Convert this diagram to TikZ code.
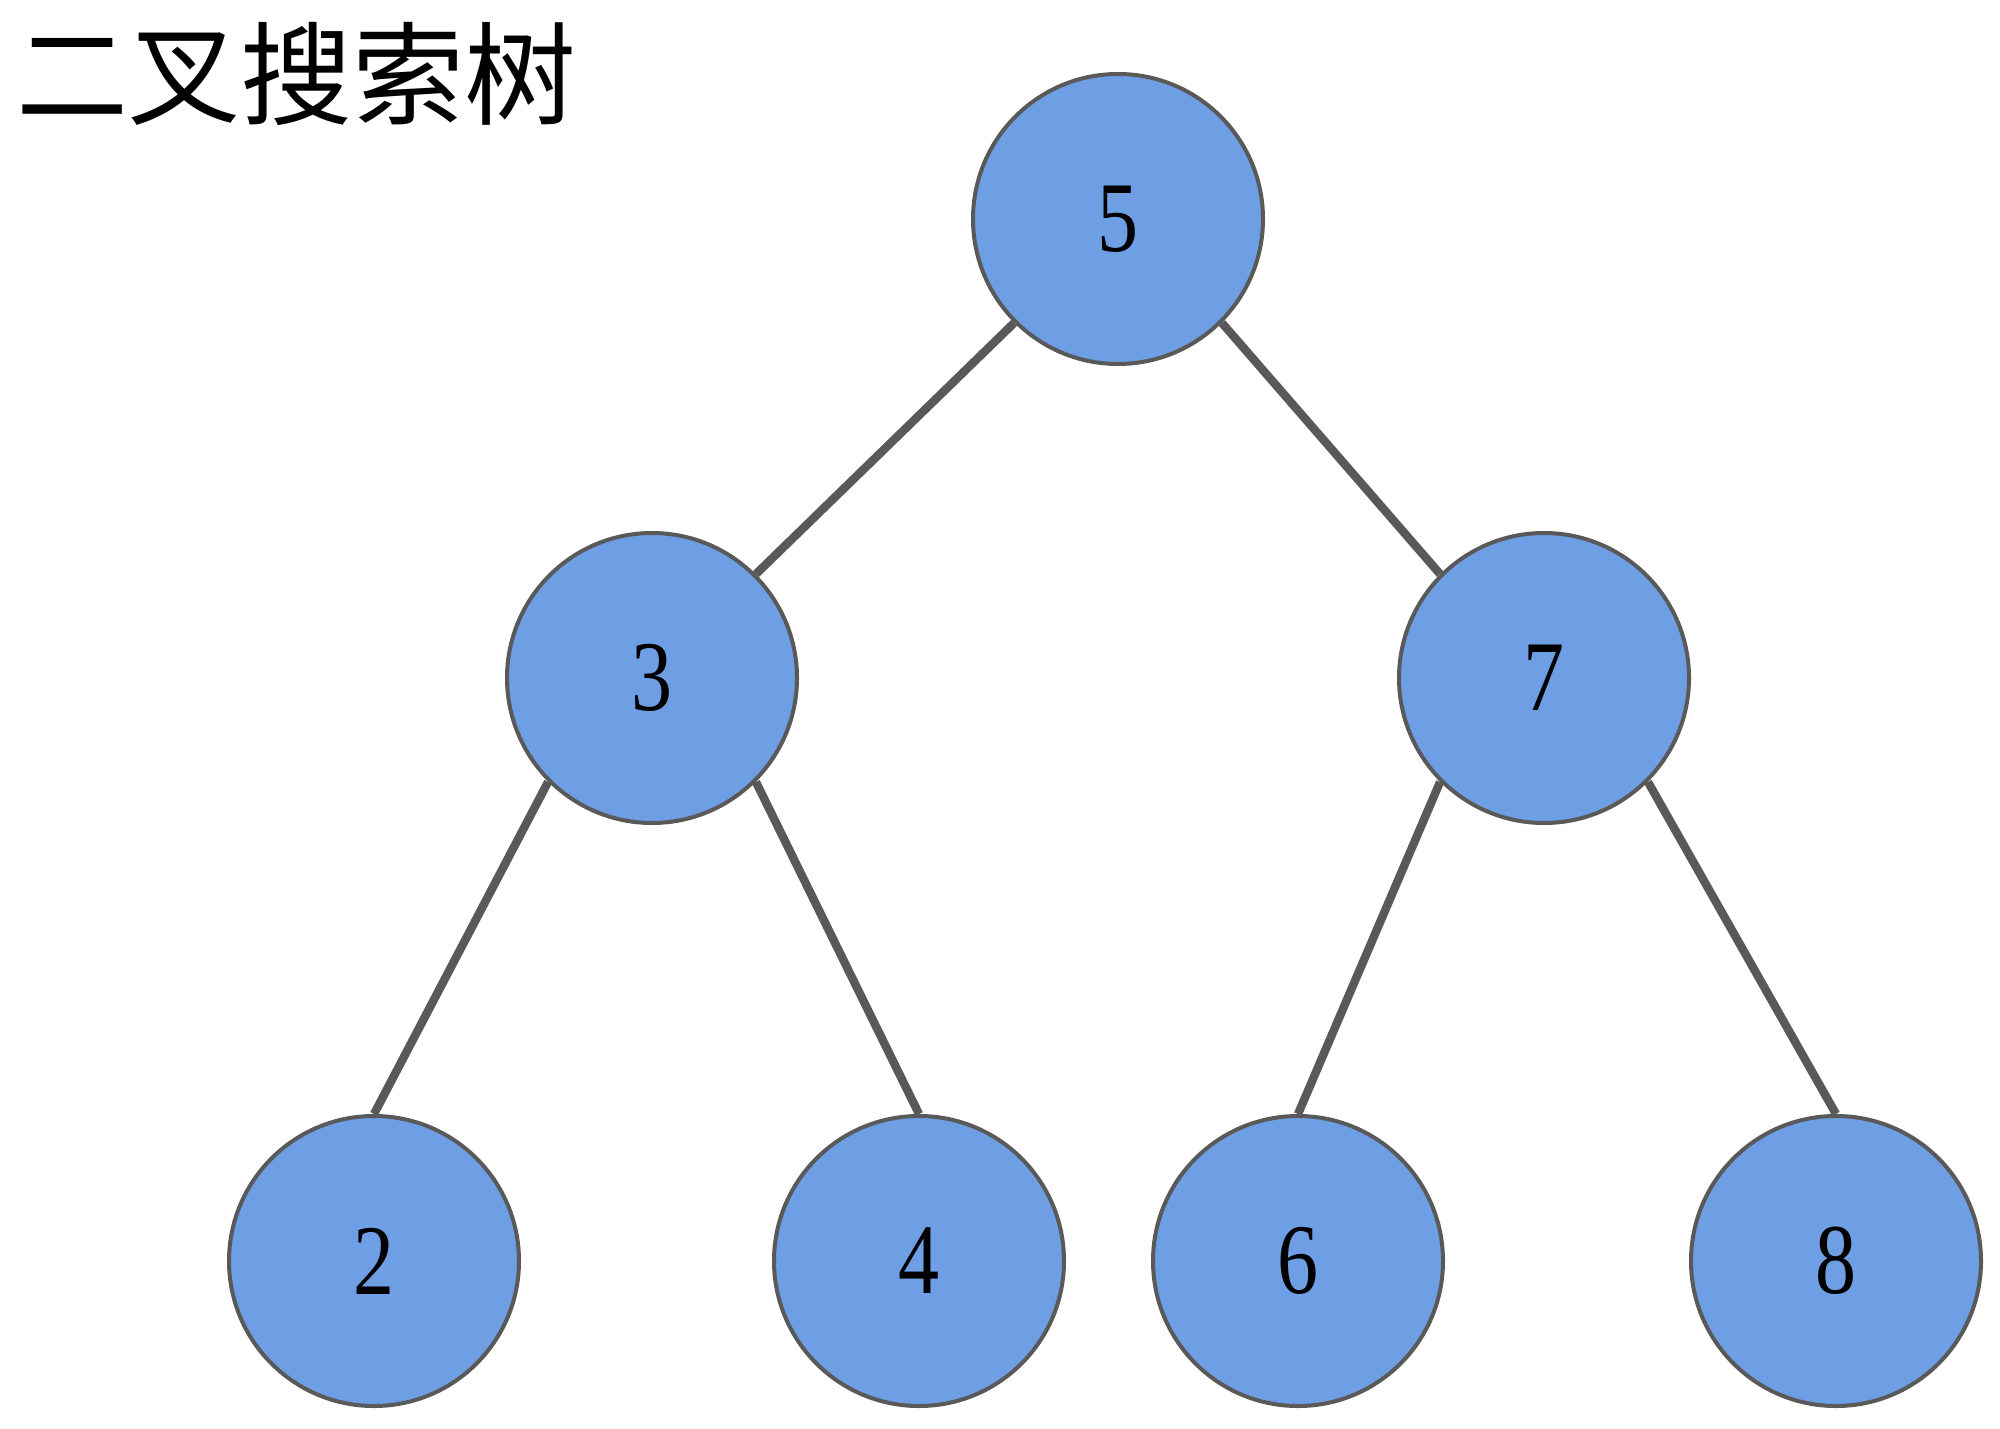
\documentclass[tikz,border=0pt]{standalone}
\usepackage{fontspec}
\setmainfont{Liberation Serif}
\newfontfamily\digitfont[FakeStretch=0.82]{Liberation Serif}
\newfontfamily\cjk{Noto Sans CJK SC}
\definecolor{nodefill}{HTML}{6E9FE4}
\definecolor{edgegray}{HTML}{595959}
\begin{document}
\begin{tikzpicture}[x=0.5pt,y=-0.5pt,
  treenode/.style={circle, minimum size=145pt, inner sep=0pt, fill=nodefill, draw=edgegray, line width=2pt, font=\digitfont\fontsize{50}{50}\selectfont},
  edge/.style={draw=edgegray, line width=4.2pt}]
\path[use as bounding box] (0,0) rectangle (2000,1428);
\node[anchor=west, inner sep=0pt, font=\cjk\fontsize{56}{56}\selectfont] (title) at (16,74) {二叉搜索树};
\node[treenode] (n5) at (1118,219) {5};
\node[treenode] (n3) at (652,678) {3};
\node[treenode] (n7) at (1544,678) {7};
\node[treenode] (n2) at (374,1261) {2};
\node[treenode] (n4) at (919,1261) {4};
\node[treenode] (n6) at (1298,1261) {6};
\node[treenode] (n8) at (1836,1261) {8};
\draw[edge] (n5.south west) -- (n3.north east);
\draw[edge] (n5.south east) -- (n7.north west);
\draw[edge] (n3.south west) -- (n2.north);
\draw[edge] (n3.south east) -- (n4.north);
\draw[edge] (n7.south west) -- (n6.north);
\draw[edge] (n7.south east) -- (n8.north);
\end{tikzpicture}
\end{document}
